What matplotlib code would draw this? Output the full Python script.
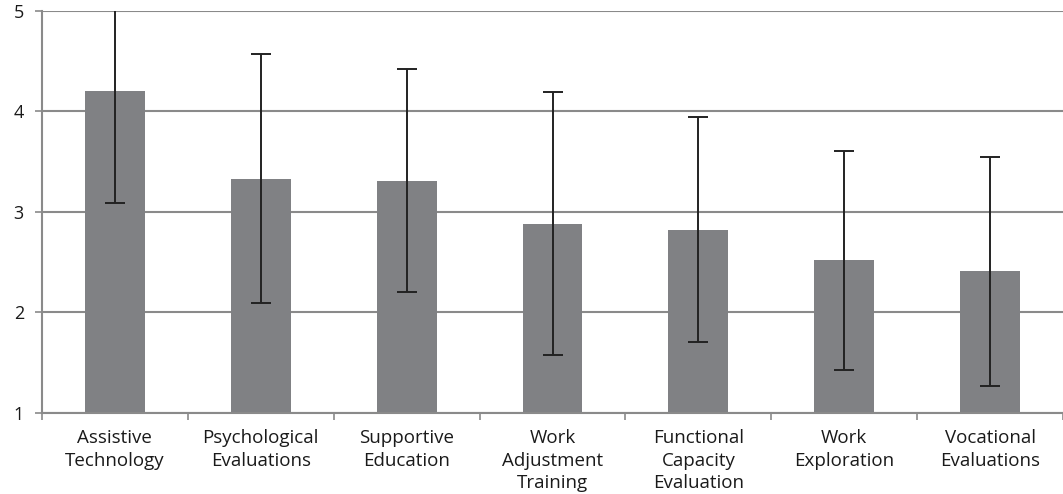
import matplotlib
matplotlib.use("Agg")
import matplotlib.pyplot as plt
import numpy as np

categories = ["Assistive\nTechnology", "Psychological\nEvaluations", "Supportive\nEducation",
              "Work\nAdjustment\nTraining", "Functional\nCapacity\nEvaluation",
              "Work\nExploration", "Vocational\nEvaluations"]
means = [4.20, 3.33, 3.31, 2.88, 2.82, 2.52, 2.41]
errors = [1.11, 1.24, 1.11, 1.31, 1.12, 1.09, 1.14]
yticks = [1, 2, 3, 4, 5]

plt.rcParams['font.family'] = ['Open Sans', 'DejaVu Sans']

fig = plt.figure(figsize=(10.63, 4.94), dpi=100)
ax = fig.add_axes([42/1063, (494-412.7)/494, 1 - 42/1063, (412.7-11)/494])
ax.set_facecolor('white')

x = np.arange(len(categories))
ax.bar(x, means, width=0.41, color='#808184', zorder=2)
ax.errorbar(x, means, yerr=errors, fmt='none', ecolor='#222222', elinewidth=1.4,
            capsize=7, capthick=1.4, zorder=3, clip_on=True)

ax.set_ylim(1, 5)
ax.set_xlim(-0.5, 6.5 - 8/147)
ax.set_yticks(yticks)
ax.set_yticklabels([str(t) for t in yticks], fontsize=13, color='#1a1a1a', fontweight='medium')
ax.yaxis.grid(True, color='#8a8a8a', linewidth=1.5, zorder=0)
ax.set_axisbelow(True)

ax.set_xticks(x)
ax.set_xticklabels(categories, fontsize=13.5, linespacing=1.32, color='#1a1a1a')
ax.set_xticks(np.arange(-0.5, 7, 1), minor=True)
ax.tick_params(axis='x', which='major', length=0, pad=12)
ax.tick_params(axis='x', which='minor', length=5, color='#8a8a8a', width=1.2, direction='out')
ax.tick_params(axis='y', length=5, color='#8a8a8a', width=1.2, pad=8)

for s in ['top', 'right']:
    ax.spines[s].set_visible(False)
for s in ['left', 'bottom']:
    ax.spines[s].set_color('#8a8a8a')
    ax.spines[s].set_linewidth(1.5)

fig.savefig('out.png', dpi=100, facecolor='white')
